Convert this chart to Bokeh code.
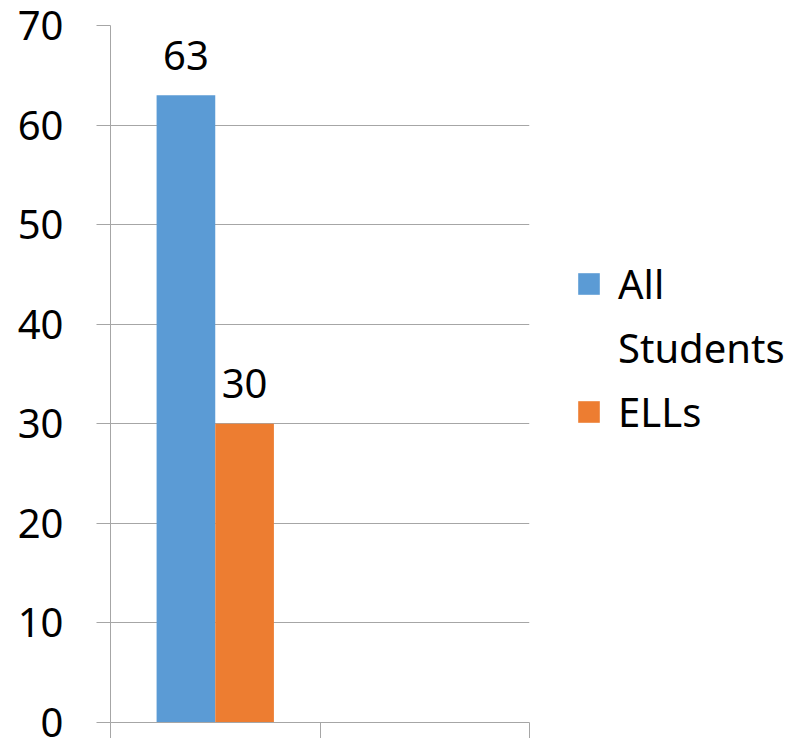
from bokeh.plotting import figure
from bokeh.layouts import row
from bokeh.models import Range1d, FixedTicker, Legend, LegendItem, ColumnDataSource
from bokeh.core.properties import value
from bokeh.embed import file_html
from bokeh.resources import INLINE

# Chart data
categories = ["", ""]
series_names = ["All Students", "ELLs"]
all_students = [63, None]
ells = [30, None]
y_ticks = [0, 10, 20, 30, 40, 50, 60, 70]

colors = ["#5B9BD5", "#ED7D31"]
grid_color = "#a6a6a6"
font = "Noto Sans"
font_size = "40px"

bar_width = 0.28
offsets = [-bar_width / 2, bar_width / 2]

p = figure(
    width=545, height=738,
    x_range=Range1d(0, len(categories)),
    y_range=Range1d(0, 70),
    output_backend="svg", toolbar_location=None,
    min_border_left=110, min_border_right=16,
    min_border_top=25, min_border_bottom=12,
)
p.outline_line_color = None
p.background_fill_color = "white"
p.border_fill_color = "white"

for series, color, off in zip([all_students, ells], colors, offsets):
    xs = [i + 0.5 + off for i, v in enumerate(series) if v is not None]
    ys = [v for v in series if v is not None]
    src = ColumnDataSource(dict(x=xs, top=ys, label=[str(v) for v in ys]))
    p.vbar(x="x", top="top", bottom=0, width=bar_width, source=src,
           fill_color=color, line_color=None)
    p.text(x="x", y="top", text="label", source=src,
           text_font=value(font), text_font_size=font_size,
           text_align="center", text_baseline="alphabetic",
           y_offset=-40, text_color="black")

# y axis
p.yaxis.ticker = FixedTicker(ticks=y_ticks)
p.yaxis.major_label_text_font = font
p.yaxis.major_label_text_font_size = font_size
p.yaxis.major_label_text_color = "black"
p.yaxis.major_label_standoff = 33
p.yaxis.axis_line_color = grid_color
p.yaxis.major_tick_line_color = grid_color
p.yaxis.major_tick_out = 14
p.yaxis.major_tick_in = 0
p.yaxis.minor_tick_line_color = None

# x axis: ticks on category boundaries, no labels
p.xaxis.ticker = FixedTicker(ticks=list(range(len(categories) + 1)))
p.xaxis.major_label_overrides = {i: "" for i in range(len(categories) + 1)}
p.xaxis.major_label_standoff = 0
p.xaxis.axis_line_color = grid_color
p.xaxis.major_tick_line_color = grid_color
p.xaxis.major_tick_out = 16
p.xaxis.major_tick_in = 0
p.xaxis.minor_tick_line_color = None

p.xgrid.grid_line_color = None
p.ygrid.grid_line_color = grid_color
p.ygrid.ticker = FixedTicker(ticks=y_ticks)

# legend panel to the right of the chart
lp = figure(
    width=259, height=738,
    x_range=Range1d(0, 1), y_range=Range1d(0, 1),
    output_backend="svg", toolbar_location=None,
    min_border=0,
)
lp.axis.visible = False
lp.grid.visible = False
lp.outline_line_color = None
lp.border_fill_color = "white"

nan = float("nan")
# swatch-free renderer for wrapped continuation lines
blank = lp.vbar(x=[nan], top=[nan], width=0.1, fill_alpha=0, line_color=None)

legend_items = []
for name, color in zip(series_names, colors):
    swatch = lp.vbar(x=[nan], top=[nan], width=0.1, fill_color=color, line_color=None)
    words = name.split(" ")
    legend_items.append(LegendItem(label=words[0], renderers=[swatch]))
    for w in words[1:]:
        legend_items.append(LegendItem(label=w, renderers=[blank]))

legend = Legend(items=legend_items, location=(30, 283))
legend.label_text_font = font
legend.label_text_font_size = font_size
legend.label_text_color = "black"
legend.glyph_width = 27
legend.glyph_height = 27
legend.label_standoff = 16
legend.spacing = 9
legend.padding = 0
legend.margin = 0
legend.border_line_color = None
legend.background_fill_alpha = 0
lp.add_layout(legend, "center")

layout = row(p, lp)
open("out.html", "w").write(file_html(layout, INLINE))
